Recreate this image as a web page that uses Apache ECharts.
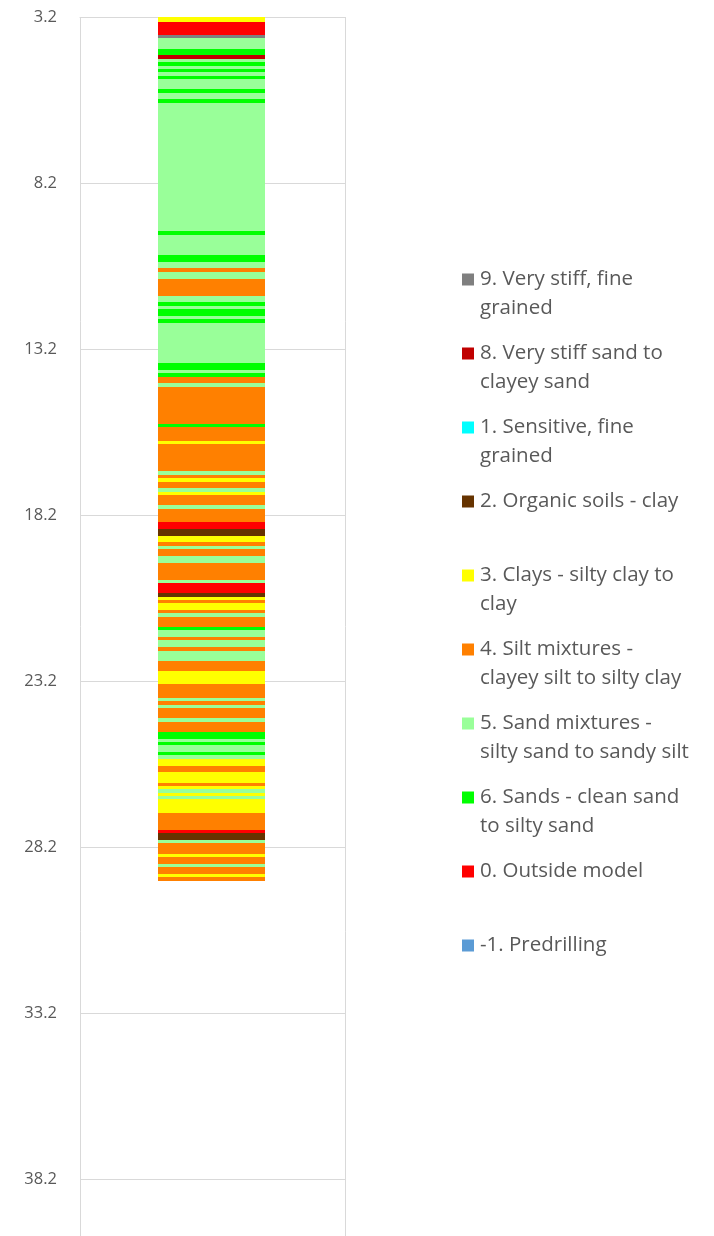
<!DOCTYPE html>
<html>
<head>
<meta charset="utf-8">
<script src="https://cdn.jsdelivr.net/npm/echarts@6/dist/echarts.min.js"></script>
<style>
html,body{margin:0;padding:0;background:#fff;}
#chart{width:714px;height:1236px;}
</style>
</head>
<body>
<div id="chart"></div>
<script>
// Soil behaviour types (legend order)
const typeCodes = [9, 8, 1, 2, 3, 4, 5, 6, 0, -1];
const typeNames = [
  '9. Very stiff, fine grained',
  '8. Very stiff sand to clayey sand',
  '1. Sensitive, fine grained',
  '2. Organic soils - clay',
  '3. Clays - silty clay to clay',
  '4. Silt mixtures - clayey silt to silty clay',
  '5. Sand mixtures - silty sand to sandy silt',
  '6. Sands - clean sand to silty sand',
  '0. Outside model',
  '-1. Predrilling'
];
const legendLines = [
  ['9. Very stiff, fine', 'grained'],
  ['8. Very stiff sand to', 'clayey sand'],
  ['1. Sensitive, fine', 'grained'],
  ['2. Organic soils - clay', ''],
  ['3. Clays - silty clay to', 'clay'],
  ['4. Silt mixtures -', 'clayey silt to silty clay'],
  ['5. Sand mixtures -', 'silty sand to sandy silt'],
  ['6. Sands - clean sand', 'to silty sand'],
  ['0. Outside model', ''],
  ['-1. Predrilling', '']
];
const typeColors = ['#7F7F7F', '#C00000', '#00FFFF', '#663300', '#FFFF00', '#FF8000', '#99FF99', '#00FF00', '#FF0000', '#5B9BD5'];

// Layers: depth of top of each layer (m) and its soil type code
const layerTops = [
  3.20, 3.34, 3.74, 3.82, 4.16, 4.34, 4.47, 4.56, 4.67, 4.77,
  4.86, 4.98, 5.07, 5.37, 5.48, 5.67, 5.78, 9.65, 9.77, 10.37,
  10.57, 10.76, 10.88, 11.09, 11.60, 11.78, 11.90, 12.00, 12.21, 12.30,
  12.42, 13.62, 13.83, 13.92, 14.04, 14.22, 14.34, 15.46, 15.55, 15.97,
  16.06, 16.87, 17.00, 17.09, 17.21, 17.39, 17.51, 17.60, 17.90, 18.02,
  18.41, 18.62, 18.83, 19.01, 19.13, 19.22, 19.43, 19.65, 20.16, 20.25,
  20.55, 20.67, 20.76, 20.85, 21.06, 21.15, 21.27, 21.57, 21.66, 21.87,
  21.96, 22.18, 22.30, 22.60, 22.90, 23.29, 23.71, 23.80, 23.92, 24.01,
  24.31, 24.43, 24.74, 24.95, 25.04, 25.13, 25.34, 25.43, 25.55, 25.76,
  25.94, 26.27, 26.36, 26.45, 26.57, 26.66, 26.75, 27.18, 27.69, 27.78,
  27.99, 28.08, 28.41, 28.50, 28.71, 28.80, 29.01, 29.10
];
const layerTypes = [
  3, 0, 9, 5, 6, 8, 5, 6, 5, 6,
  5, 6, 5, 6, 5, 6, 5, 6, 5, 6,
  5, 4, 5, 4, 5, 6, 5, 6, 5, 6,
  5, 6, 5, 6, 4, 5, 4, 6, 4, 3,
  4, 5, 4, 3, 4, 5, 3, 4, 5, 4,
  0, 2, 3, 4, 5, 4, 5, 4, 5, 0,
  2, 3, 4, 3, 4, 5, 4, 6, 5, 4,
  5, 4, 5, 4, 3, 4, 5, 4, 5, 4,
  5, 4, 6, 5, 6, 5, 6, 5, 3, 4,
  3, 4, 3, 5, 3, 5, 3, 4, 0, 2,
  5, 4, 3, 4, 5, 4, 3, 4
];
const boreholeEnd = 29.22;

// Depth axis
const depthAxisTop = 3.2;
const depthAxisBottom = 39.92;
const depthTickStep = 5;
const categories = [''];

const chart = echarts.init(document.getElementById('chart'), null, {renderer: 'canvas'});
const FONT = '"Open Sans", Lato, sans-serif';

function makeRender(color) {
  return function (params, api) {
    const cat = api.value(0);
    const p0 = api.coord([cat, api.value(1) - depthAxisTop]);
    const p1 = api.coord([cat, api.value(2) - depthAxisTop]);
    const w = api.size([1, 0])[0] * 0.404;
    const y0 = Math.round(p0[1]);
    const y1 = Math.round(p1[1]);
    return {
      type: 'rect',
      shape: {x: Math.round(p0[0] - w / 2 - 1), y: y0, width: Math.round(w), height: y1 - y0},
      style: {fill: color}
    };
  };
}

const series = typeCodes.map((code, i) => {
  const data = [];
  layerTops.forEach((top, k) => {
    if (layerTypes[k] === code) {
      const bottom = k + 1 < layerTops.length ? layerTops[k + 1] : boreholeEnd;
      data.push([0, top, bottom]);
    }
  });
  return {
    type: 'custom',
    name: typeNames[i],
    renderItem: makeRender(typeColors[i]),
    itemStyle: {color: typeColors[i]},
    encode: {x: 0, y: 1},
    data: data,
    silent: true
  };
});

const rich = {
  t: {color: '#595959', fontFamily: FONT, fontSize: 20.5, lineHeight: 29, padding: [0, 0, 0, 6]},
  ind: {width: 12, lineHeight: 29}
};
typeColors.forEach((c, i) => {
  rich['s' + i] = {width: 12, height: 12, backgroundColor: c, lineHeight: 29};
});

const option = {
  animation: false,
  backgroundColor: '#ffffff',
  grid: {left: 80, right: 369, top: 17, bottom: 0, containLabel: false},
  xAxis: {
    type: 'category',
    data: categories,
    position: 'top',
    boundaryGap: true,
    axisLine: {show: true, lineStyle: {color: '#D9D9D9', width: 1}},
    axisTick: {show: false},
    axisLabel: {show: false},
    splitLine: {show: true, lineStyle: {color: '#D9D9D9', width: 1}}
  },
  yAxis: {
    type: 'value',
    inverse: true,
    min: 0,
    max: depthAxisBottom - depthAxisTop,
    interval: depthTickStep,
    axisLine: {show: false},
    axisTick: {show: false},
    splitLine: {show: true, lineStyle: {color: '#D9D9D9', width: 1}},
    axisLabel: {
      showMaxLabel: false,
      margin: 23,
      color: '#595959',
      fontFamily: FONT,
      fontSize: 16.5,
      formatter: v => (v + depthAxisTop).toFixed(1)
    }
  },
  legend: {
    orient: 'vertical',
    left: 457,
    top: 265,
    padding: 0,
    itemGap: 16,
    itemWidth: 0,
    itemHeight: 0,
    icon: 'rect',
    selectedMode: false,
    data: typeNames,
    formatter: function (name) {
      const i = typeNames.indexOf(name);
      const L = legendLines[i];
      return '{s' + i + '|}{t|' + L[0] + '}\n{ind|}{t|' + (L[1] || ' ') + '}';
    },
    textStyle: {color: '#595959', fontFamily: FONT, fontSize: 20.5, lineHeight: 29, rich: rich}
  },
  series: series
};
chart.setOption(option);
</script>
</body>
</html>
